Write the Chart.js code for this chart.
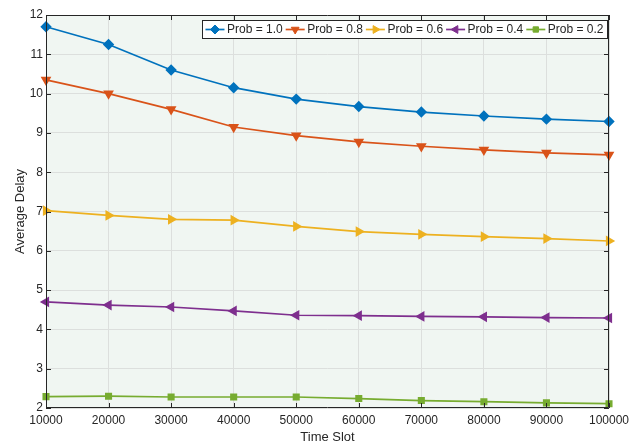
<!DOCTYPE html>
<html><head><meta charset="utf-8">
<script src="https://cdn.jsdelivr.net/npm/chart.js@4/dist/chart.umd.min.js"></script>
<style>html,body{margin:0;padding:0;background:#fff}#wrap{width:639px;height:445px}</style>
</head><body><div id="wrap"><canvas id="c" width="639" height="445"></canvas></div>
<script>
const timeSlots = [10000,20000,30000,40000,50000,60000,70000,80000,90000,100000];
const prob10 = [11.7,11.25,10.6,10.15,9.86,9.67,9.53,9.43,9.35,9.29];
const prob08 = [10.35,10.0,9.6,9.15,8.93,8.77,8.66,8.57,8.49,8.44];
const prob06 = [7.02,6.9,6.8,6.78,6.62,6.49,6.42,6.36,6.31,6.25];
const prob04 = [4.7,4.62,4.57,4.47,4.36,4.35,4.33,4.32,4.3,4.29];
const prob02 = [2.29,2.3,2.28,2.28,2.28,2.24,2.19,2.16,2.13,2.11];
const seriesLabels = ['Prob = 1.0','Prob = 0.8','Prob = 0.6','Prob = 0.4','Prob = 0.2'];
const yTicks = [2,3,4,5,6,7,8,9,10,11,12];

const colors = ['#0072BD','#D95319','#EDB120','#7E2F8E','#77AC30'];
const styles = [
  {ps:'rectRot', rot:0, r:4.5},
  {ps:'triangle', rot:180, r:4.5},
  {ps:'triangle', rot:90, r:4.5},
  {ps:'triangle', rot:-90, r:4.5},
  {ps:'rect', rot:0, r:3.8}
];
const allData = [prob10,prob08,prob06,prob04,prob02];
const FONT = '"Liberation Sans", Arial, sans-serif';

const datasets = allData.map((d,i)=>({
  label: seriesLabels[i],
  data: d.map((v,j)=>({x:timeSlots[j], y:v})),
  borderColor: colors[i], backgroundColor: colors[i],
  borderWidth: 1.7, pointStyle: styles[i].ps, pointRotation: styles[i].rot,
  pointRadius: styles[i].r, pointHoverRadius: styles[i].r, tension: 0, clip: false
}));

const framePlugin = {
  id:'frame',
  beforeDraw(chart){
    const {ctx, chartArea:a} = chart;
    ctx.save(); ctx.fillStyle='#F0F6F2';
    ctx.fillRect(a.left,a.top,a.right-a.left,a.bottom-a.top); ctx.restore();
  },
  afterDatasetsDraw(chart){
    const {ctx, chartArea:a, scales} = chart;
    ctx.save();
    ctx.strokeStyle='#262626'; ctx.lineWidth=1;
    ctx.beginPath();
    ctx.rect(a.left+0.5,a.top+0.5,a.right-a.left-1,a.bottom-a.top-1);
    ctx.stroke();
    const L=5;
    ctx.beginPath();
    timeSlots.forEach(t=>{
      const x=Math.round(scales.x.getPixelForValue(t))+0.5;
      ctx.moveTo(x,a.bottom); ctx.lineTo(x,a.bottom-L);
      ctx.moveTo(x,a.top); ctx.lineTo(x,a.top+L);
    });
    yTicks.forEach(v=>{
      const y=Math.round(scales.y.getPixelForValue(v))+0.5;
      ctx.moveTo(a.left,y); ctx.lineTo(a.left+L,y);
      ctx.moveTo(a.right,y); ctx.lineTo(a.right-L,y);
    });
    ctx.stroke();
    // legend
    ctx.font='12px '+FONT;
    const sampleW=19, gap=2.5, pad=3.5, after=3;
    let w=pad;
    const items=chart.data.datasets.map(ds=>ctx.measureText(ds.label).width);
    items.forEach(tw=>{w+=sampleW+gap+tw+after;});
    w+=pad-after;
    const h=18, bx=a.right-2-w, by=a.top+5;
    ctx.fillStyle='#fff'; ctx.fillRect(bx,by,w,h);
    ctx.lineWidth=1; ctx.strokeStyle='#262626'; ctx.strokeRect(Math.round(bx)+0.5,by+0.5,Math.round(w),h);
    let x=bx+pad; const cy=by+h/2+0.5;
    chart.data.datasets.forEach((ds,i)=>{
      ctx.strokeStyle=ds.borderColor; ctx.lineWidth=1.7;
      ctx.beginPath(); ctx.moveTo(x,cy); ctx.lineTo(x+sampleW,cy); ctx.stroke();
      ctx.fillStyle=ds.borderColor; ctx.strokeStyle=ds.borderColor; ctx.lineWidth=1;
      Chart.helpers.drawPoint(ctx,{pointStyle:ds.pointStyle,rotation:ds.pointRotation,radius:ds.pointRadius,borderWidth:1},x+sampleW/2,cy);
      ctx.fillStyle='#262626'; ctx.textBaseline='middle'; ctx.textAlign='left';
      ctx.fillText(ds.label,x+sampleW+gap,cy);
      x+=sampleW+gap+items[i]+after;
    });
    ctx.restore();
  }
};

new Chart(document.getElementById('c'),{
  type:'line',
  data:{datasets},
  options:{
    responsive:false, animation:false, devicePixelRatio:1,
    layout:{padding:{left:13,right:30,top:15,bottom:0}},
    plugins:{legend:{display:false},tooltip:{enabled:false}},
    scales:{
      x:{type:'linear',min:10000,max:100000,
        afterBuildTicks(s){s.ticks=timeSlots.map(v=>({value:v}));},
        afterFit(s){s.height=37;},
        grid:{color:'#DCDFDD',lineWidth:1,drawTicks:false},
        border:{display:false},
        ticks:{color:'#262626',font:{family:FONT,size:12},padding:5,maxRotation:0,autoSkip:false,callback:v=>String(v)},
        title:{display:true,text:'Time Slot',color:'#262626',font:{family:FONT,size:13},padding:{top:0,bottom:0}}
      },
      y:{min:2,max:12,
        afterBuildTicks(s){s.ticks=yTicks.map(v=>({value:v}));},
        afterFit(s){s.width=33;},
        grid:{color:'#DCDFDD',lineWidth:1,drawTicks:false},
        border:{display:false},
        ticks:{color:'#262626',font:{family:FONT,size:12},padding:3},
        title:{display:true,text:'Average Delay',color:'#262626',font:{family:FONT,size:13},padding:{top:0,bottom:0}}
      }
    }
  },
  plugins:[framePlugin]
});
</script></body></html>
